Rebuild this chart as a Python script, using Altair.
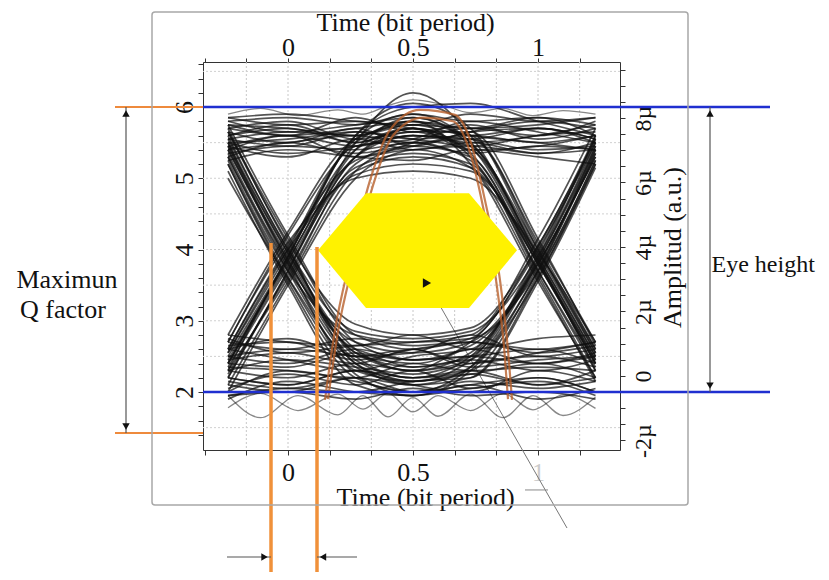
import altair as alt
import pandas as pd

FONT = "Liberation Serif"
INK = "#111111"

# ---------------- scale domains ----------------
t_domain = [-0.34, 1.328]      # time (bit period)
v_domain = [1.186, 6.632]      # left amplitude scale
u_domain = [-2.295, 9.736]     # right amplitude scale (µ)

# ---------------- eye-diagram traces ----------------
knots_t = [-0.24, 0.0, 0.27, 0.5, 0.73, 1.0, 1.23]

top_rail = [
    [5.55, 5.65, 5.60, 5.75, 5.60, 5.70, 5.55],
    [5.35, 5.45, 5.40, 5.50, 5.35, 5.45, 5.40],
    [5.80, 5.85, 5.75, 5.90, 5.80, 5.85, 5.75],
    [5.45, 5.30, 5.55, 5.40, 5.50, 5.35, 5.50],
    [5.70, 5.60, 5.85, 5.65, 5.75, 5.55, 5.70],
    [5.60, 5.75, 5.50, 5.70, 5.45, 5.60, 5.65],
    [5.25, 5.40, 5.30, 5.25, 5.40, 5.30, 5.20],
    [5.50, 5.55, 5.65, 5.55, 5.60, 5.50, 5.60],
    [5.75, 5.70, 5.60, 5.80, 5.70, 5.75, 5.85],
    [5.40, 5.60, 5.45, 5.60, 5.55, 5.40, 5.45],
    [5.65, 5.50, 5.70, 5.45, 5.65, 5.70, 5.55],
    [5.85, 5.90, 5.80, 5.75, 5.90, 5.80, 5.85],
]
bottom_rail = [
    [2.20, 2.10, 2.30, 2.15, 2.25, 2.10, 2.20],
    [2.50, 2.40, 2.60, 2.45, 2.50, 2.40, 2.55],
    [1.95, 2.00, 1.90, 2.05, 1.95, 2.00, 1.90],
    [2.70, 2.60, 2.75, 2.65, 2.70, 2.60, 2.70],
    [2.35, 2.30, 2.20, 2.40, 2.30, 2.35, 2.30],
    [2.05, 2.25, 2.10, 2.30, 2.05, 2.20, 2.00],
    [2.60, 2.75, 2.50, 2.55, 2.80, 2.50, 2.60],
    [2.30, 2.45, 2.35, 2.25, 2.40, 2.50, 2.35],
    [2.15, 2.05, 2.20, 2.00, 2.15, 2.05, 2.15],
    [2.45, 2.55, 2.40, 2.60, 2.35, 2.45, 2.50],
    [2.80, 2.70, 2.65, 2.80, 2.60, 2.75, 2.80],
    [1.90, 2.15, 2.00, 1.95, 2.10, 1.90, 2.05],
]
rise_at_0 = [
    [2.40, 3.85, 5.30, 5.60, 5.55, 5.70, 5.50],
    [2.10, 3.55, 5.10, 5.50, 5.70, 5.60, 5.80],
    [2.70, 4.20, 5.50, 5.80, 5.60, 5.50, 5.40],
    [2.30, 3.90, 5.40, 5.70, 5.40, 5.45, 5.60],
    [2.60, 4.05, 5.25, 5.45, 5.65, 5.80, 5.70],
    [2.40, 3.90, 5.60, 6.00, 6.05, 5.80, 5.60],
    [2.20, 3.70, 5.30, 5.65, 5.50, 5.60, 5.75],
    [2.55, 4.00, 5.45, 5.55, 5.80, 5.65, 5.50],
    [2.00, 3.50, 5.00, 5.40, 5.45, 5.35, 5.40],
    [2.80, 4.25, 5.55, 5.75, 5.70, 5.85, 5.60],
]
fall_at_0 = [
    [5.40, 3.85, 2.45, 2.20, 2.30, 2.10, 2.30],
    [5.65, 4.15, 2.70, 2.45, 2.50, 2.60, 2.40],
    [5.20, 3.55, 2.20, 2.00, 2.10, 2.20, 2.00],
    [5.50, 3.95, 2.60, 2.30, 2.60, 2.40, 2.50],
    [5.30, 3.70, 2.35, 2.10, 2.00, 2.30, 2.15],
    [5.00, 3.60, 2.50, 2.60, 2.40, 2.55, 2.70],
    [5.55, 4.00, 2.55, 2.35, 2.45, 2.30, 2.45],
    [5.75, 4.20, 2.80, 2.60, 2.70, 2.55, 2.65],
    [5.10, 3.50, 2.10, 1.95, 2.05, 2.15, 1.95],
    [5.45, 3.80, 2.30, 2.15, 2.25, 2.40, 2.20],
]
fall_at_1 = [
    [5.60, 5.70, 5.50, 5.70, 5.35, 3.80, 2.40],
    [5.40, 5.50, 5.60, 5.50, 5.55, 4.05, 2.60],
    [5.75, 5.60, 5.70, 5.80, 5.20, 3.55, 2.20],
    [5.50, 5.35, 5.45, 5.60, 5.45, 3.90, 2.50],
    [5.85, 5.75, 5.80, 5.70, 5.60, 4.10, 2.70],
    [5.30, 5.50, 5.35, 5.45, 5.30, 3.70, 2.30],
    [5.55, 5.45, 5.65, 5.55, 5.40, 3.85, 2.45],
    [5.70, 5.80, 5.55, 5.65, 5.65, 4.15, 2.65],
    [5.45, 5.60, 5.30, 5.40, 5.15, 3.60, 2.15],
    [5.80, 5.65, 5.75, 5.85, 5.50, 4.00, 2.55],
]
rise_at_1 = [
    [2.30, 2.20, 2.40, 2.30, 2.45, 3.80, 5.30],
    [2.50, 2.60, 2.50, 2.40, 2.70, 4.00, 5.50],
    [2.10, 2.00, 2.20, 2.10, 2.20, 3.60, 5.20],
    [2.60, 2.45, 2.30, 2.50, 2.60, 3.90, 5.60],
    [2.00, 2.30, 2.15, 2.00, 2.35, 3.70, 5.40],
    [2.75, 2.55, 2.65, 2.70, 2.80, 4.15, 5.70],
    [2.40, 2.35, 2.55, 2.35, 2.50, 3.85, 5.45],
    [2.20, 2.10, 2.30, 2.20, 2.30, 3.65, 5.25],
    [2.65, 2.70, 2.45, 2.60, 2.75, 4.05, 5.55],
    [1.95, 2.05, 2.00, 2.15, 2.20, 3.55, 5.15],
]
pulse = [
    [2.40, 3.80, 5.30, 5.70, 5.30, 3.80, 2.40],
    [2.20, 3.70, 5.50, 6.20, 5.60, 3.90, 2.50],
    [2.60, 4.00, 5.05, 5.20, 5.10, 3.85, 2.30],
    [2.30, 3.60, 5.20, 5.50, 5.25, 3.65, 2.20],
    [2.50, 3.90, 5.60, 6.05, 5.70, 4.00, 2.60],
    [2.70, 4.10, 5.00, 5.10, 5.00, 3.95, 2.70],
    [2.45, 3.85, 5.40, 5.85, 5.45, 3.85, 2.45],
    [2.35, 3.75, 5.15, 5.35, 5.20, 3.70, 2.35],
    [2.55, 3.95, 5.55, 5.90, 5.50, 3.95, 2.55],
    [2.25, 3.65, 5.10, 5.30, 5.15, 3.80, 2.40],
]
dip = [
    [5.40, 3.90, 2.50, 2.20, 2.50, 3.80, 5.30],
    [5.60, 4.00, 2.85, 2.75, 2.85, 3.90, 5.50],
    [5.20, 3.60, 2.25, 1.95, 2.30, 3.60, 5.20],
    [5.50, 3.85, 2.60, 2.45, 2.65, 3.75, 5.45],
    [5.70, 4.10, 2.95, 2.80, 2.90, 4.05, 5.60],
    [5.30, 3.75, 2.40, 2.10, 2.35, 3.70, 5.35],
    [5.45, 3.95, 2.55, 2.30, 2.55, 3.85, 5.40],
    [5.35, 3.80, 2.70, 2.55, 2.70, 3.80, 5.35],
    [5.65, 4.05, 2.40, 2.15, 2.45, 3.95, 5.55],
    [5.25, 3.70, 2.80, 2.70, 2.75, 3.70, 5.25],
]

# ringing traces with their own knots
ring_t = [-0.24, -0.11, 0.04, 0.20, 0.30, 0.40, 0.50, 0.60, 0.73, 0.86, 0.98, 1.10, 1.23]
ring_low_a = [1.95, 1.64, 1.95, 1.68, 1.95, 1.65, 1.92, 1.66, 1.97, 1.64, 1.95, 1.67, 1.93]
ring_low_b = [1.78, 1.98, 1.74, 1.97, 1.76, 1.98, 1.72, 1.95, 1.74, 1.98, 1.75, 1.96, 1.77]
ring_top = [5.90, 5.98, 5.88, 5.96, 5.90, 6.02, 6.10, 6.05, 5.92, 5.98, 5.88, 5.95, 5.90]

# highlighted (orange) pulse traces
orange_t1 = [0.148, 0.188, 0.248, 0.328, 0.408, 0.528, 0.668, 0.728, 0.788, 0.848, 0.880, 0.896]
orange_v1 = [1.89, 2.87, 3.85, 4.97, 5.68, 5.96, 5.89, 5.54, 4.69, 3.57, 2.59, 1.89]
orange_t2 = [0.160, 0.200, 0.260, 0.340, 0.420, 0.540, 0.660, 0.720, 0.780, 0.835, 0.865, 0.880]
orange_v2 = [1.90, 2.85, 3.80, 4.90, 5.60, 5.85, 5.80, 5.45, 4.60, 3.50, 2.60, 1.90]

# eye-opening hexagon
hex_t = [0.12, 0.312, 0.724, 0.916]
hex_top = [3.99, 4.79, 4.79, 3.99]
hex_bottom = [3.99, 3.18, 3.18, 3.99]

# annotation geometry (in data units)
marker_pt = (0.556, 3.53)
pointer_t = [0.556, 1.116]
pointer_v = [3.53, 0.091]
blue_levels = [6.0, 2.0]
blue_span = [-0.34, 1.928]
orange_levels = [6.0, 1.425]
orange_span = [-0.692, -0.34]
orange_cols_t = [-0.068, 0.116]
orange_cols_top = [4.09, 4.035]
orange_cols_bottom = -0.64
frame_t = [-0.544, 1.60]
frame_v = [0.414, 7.333]

grid_t = [-1/6, 0.0, 1/6, 1/3, 0.5, 2/3, 5/6, 1.0, 7/6]
grid_v = [1.5, 2.0, 2.5, 3.0, 3.5, 4.0, 4.5, 5.0, 5.5, 6.0, 6.5]

x_ticks = [-1/3, -1/6, 0.0, 1/6, 1/3, 0.5, 2/3, 5/6, 1.0, 7/6]
v_ticks = [round(1.4 + 0.2 * i, 1) for i in range(27)]
u_ticks = [-2.0, -1.5, -1.0, -0.5, 0.0, 0.5, 1.0, 1.5, 2.0, 2.5, 3.0, 3.5, 4.0, 4.5,
           5.0, 5.5, 6.0, 6.5, 7.0, 7.5, 8.0, 8.5, 9.0, 9.5]

texts = pd.DataFrame({
    "t": [-0.884, -0.90, 1.694],
    "v": [3.572, 3.151, 3.782],
    "label": ["Maximun", "Q factor", "Eye height"],
    "align": ["center", "center", "left"],
})

# ---------------- build tables ----------------
rows = []
groups = [("top", top_rail), ("bot", bottom_rail), ("r0", rise_at_0), ("f0", fall_at_0),
          ("f1", fall_at_1), ("r1", rise_at_1), ("p", pulse), ("d", dip)]
for name, group in groups:
    for i, vals in enumerate(group):
        for t, v in zip(knots_t, vals):
            rows.append({"trace": f"{name}{i}", "t": t, "v": v})
traces_df = pd.DataFrame(rows)

ring_rows = []
for name, vals in [("ra", ring_low_a), ("rb", ring_low_b), ("rt", ring_top)]:
    for t, v in zip(ring_t, vals):
        ring_rows.append({"trace": name, "t": t, "v": v})
ring_df = pd.DataFrame(ring_rows)

orange_df = pd.DataFrame(
    [{"trace": "o1", "t": t, "v": v} for t, v in zip(orange_t1, orange_v1)]
    + [{"trace": "o2", "t": t, "v": v} for t, v in zip(orange_t2, orange_v2)]
)
hex_df = pd.DataFrame({"t": hex_t, "top": hex_top, "bottom": hex_bottom})

xs = alt.Scale(domain=t_domain, nice=False, zero=False)
ys = alt.Scale(domain=v_domain, nice=False, zero=False)
us = alt.Scale(domain=u_domain, nice=False, zero=False)

X = lambda f="t": alt.X(f"{f}:Q", scale=xs, axis=None)
Y = lambda f="v": alt.Y(f"{f}:Q", scale=ys, axis=None)

# grid
grid_x = alt.Chart(pd.DataFrame({"t": grid_t})).mark_rule(
    color="#c8c8c8", strokeWidth=1, strokeDash=[2, 2]).encode(x=X())
grid_y = alt.Chart(pd.DataFrame({"v": grid_v})).mark_rule(
    color="#d0d0d0", strokeWidth=1, strokeDash=[2, 2]).encode(y=Y())

# gray pointer line
pointer = alt.Chart(pd.DataFrame({"t": pointer_t, "v": pointer_v})).mark_line(
    color="#777777", strokeWidth=1, clip=False).encode(x=X(), y=Y())
pointer_tail = alt.Chart(pd.DataFrame({"t": [0.948], "t2": [1.04], "v": [0.625]})).mark_rule(
    color="#888888", strokeWidth=1, clip=False).encode(x=X(), x2="t2:Q", y=Y())

traces = alt.Chart(traces_df).mark_line(
    interpolate="monotone", color=INK, opacity=0.72, strokeWidth=1.7).encode(
    x=X(), y=Y(), detail="trace:N")
ringing = alt.Chart(ring_df).mark_line(
    interpolate="monotone", color=INK, opacity=0.5, strokeWidth=1.3).encode(
    x=X(), y=Y(), detail="trace:N")

orange_tr = alt.Chart(orange_df).mark_line(
    interpolate="monotone", color="#b8602c", opacity=0.8, strokeWidth=2.2).encode(
    x=X(), y=Y(), detail="trace:N")

hexagon = alt.Chart(hex_df).mark_area(color="#fff200", opacity=1).encode(
    x=X(), y=Y("top"), y2="bottom:Q")

marker = alt.Chart(pd.DataFrame({"t": [marker_pt[0]], "v": [marker_pt[1]]})).mark_point(
    shape="triangle-right", filled=True, color=INK, size=90, opacity=1).encode(x=X(), y=Y())

blue = alt.Chart(pd.DataFrame({"v": blue_levels, "t": [blue_span[0]] * 2, "t2": [blue_span[1]] * 2})).mark_rule(
    color="#1f2fd0", strokeWidth=2.5, clip=False).encode(x=X(), x2="t2:Q", y=Y())
orange_h = alt.Chart(pd.DataFrame({"v": orange_levels, "t": [orange_span[0]] * 2, "t2": [orange_span[1]] * 2})).mark_rule(
    color="#ee8a3c", strokeWidth=2, clip=False).encode(x=X(), x2="t2:Q", y=Y())
orange_v = alt.Chart(pd.DataFrame({"t": orange_cols_t, "v": orange_cols_top,
                                   "v2": [orange_cols_bottom] * 2})).mark_rule(
    color="#f0913a", strokeWidth=3.5, clip=False).encode(x=X(), y=Y(), y2="v2:Q")

# double arrows (vertical) and jitter arrows (horizontal)
arrow_lines = alt.Chart(pd.DataFrame({
    "t": [-0.648, 1.688], "v": [6.0, 6.0], "v2": [1.425, 2.0]})).mark_rule(
    color="#555555", strokeWidth=1.2, clip=False).encode(x=X(), y=Y(), y2="v2:Q")
heads_up = alt.Chart(pd.DataFrame({"t": [-0.648, 1.688], "v": [5.91, 5.91]})).mark_point(
    shape="triangle-up", filled=True, color=INK, size=55, opacity=1, clip=False).encode(x=X(), y=Y())
heads_down = alt.Chart(pd.DataFrame({"t": [-0.648, 1.688], "v": [1.515, 2.09]})).mark_point(
    shape="triangle-down", filled=True, color=INK, size=55, opacity=1, clip=False).encode(x=X(), y=Y())
h_lines = alt.Chart(pd.DataFrame({"t": [-0.244, 0.116], "t2": [-0.068, 0.276], "v": [-0.316, -0.316]})).mark_rule(
    color="#555555", strokeWidth=1.2, clip=False).encode(x=X(), x2="t2:Q", y=Y())
head_r = alt.Chart(pd.DataFrame({"t": [-0.094], "v": [-0.316]})).mark_point(
    shape="triangle-right", filled=True, color=INK, size=55, opacity=1, clip=False).encode(x=X(), y=Y())
head_l = alt.Chart(pd.DataFrame({"t": [0.14], "v": [-0.316]})).mark_point(
    shape="triangle-left", filled=True, color=INK, size=55, opacity=1, clip=False).encode(x=X(), y=Y())

# annotation texts
text_c = alt.Chart(texts[texts["align"] == "center"]).mark_text(
    font=FONT, fontSize=26, color=INK, align="center", baseline="middle", clip=False).encode(
    x=X(), y=Y(), text="label:N")
text_l = alt.Chart(texts[texts["align"] == "left"]).mark_text(
    font=FONT, fontSize=24, color=INK, align="left", baseline="middle", clip=False).encode(
    x=X(), y=Y(), text="label:N")

# outer frame
frame = alt.Chart(pd.DataFrame({"t": [frame_t[0]], "t2": [frame_t[1]],
                                "v": [frame_v[1]], "v2": [frame_v[0]]})).mark_rect(
    filled=False, stroke="#a8a8a8", strokeWidth=1.5, cornerRadius=3, clip=False).encode(
    x=X(), x2="t2:Q", y=Y(), y2="v2:Q")

# axes: bottom/left on the amplitude scale, top/right on the µ scale
axis_common = dict(labelFont=FONT, titleFont=FONT, titleColor=INK,
                   domainColor="#333333", tickColor="#333333", labelFlush=False,
                   labelOverlap=False, grid=False, titleFontWeight="normal")

bottom_axis = alt.Axis(
    orient="bottom", values=x_ticks, tickSize=5, labelFontSize=26, labelPadding=25,
    labelBaseline="alphabetic",
    labelExpr="abs(datum.value) < 1e-6 ? '0' : abs(datum.value - 0.5) < 1e-6 ? '0.5' : abs(datum.value - 1) < 1e-6 ? '1' : ''",
    labelColor={"condition": {"test": "datum.value > 0.9", "value": "#cccccc"}, "value": INK},
    title="Time (bit period)", titleFontSize=26, titleX=222, titleY=55,
    titleBaseline="alphabetic", titleAlign="center", **axis_common)
left_axis = alt.Axis(
    orient="left", values=v_ticks, tickSize=5, labelFontSize=26, labelPadding=6,
    labelAngle=270, labelAlign="center", labelBaseline="alphabetic", labelColor=INK,
    labelExpr="datum.value % 1 == 0 ? datum.value : ''", title=None, **axis_common)
top_axis = alt.Axis(
    orient="top", values=x_ticks, tickSize=4, labelFontSize=26, labelPadding=3,
    labelBaseline="alphabetic", labelColor=INK,
    labelExpr="abs(datum.value) < 1e-6 ? '0' : abs(datum.value - 0.5) < 1e-6 ? '0.5' : abs(datum.value - 1) < 1e-6 ? '1' : ''",
    title="Time (bit period)", titleFontSize=26, titleX=202, titleY=-32,
    titleBaseline="alphabetic", titleAlign="center", **axis_common)
right_axis = alt.Axis(
    orient="right", values=u_ticks, tickSize=5, labelFontSize=24, labelPadding=6,
    labelAngle=270, labelAlign="center", labelBaseline="top", labelColor=INK,
    labelExpr="datum.value % 2 == 0 ? (datum.value == 0 ? '0' : datum.value + 'µ') : ''",
    title="Amplitud (a.u.)", titleFontSize=26, titleAngle=270, titleX=52, titleY=185,
    titleBaseline="middle", titleAlign="center", **axis_common)

axes_bl = alt.Chart(pd.DataFrame({"t": t_domain, "v": v_domain})).mark_point(opacity=0).encode(
    x=alt.X("t:Q", scale=xs, axis=bottom_axis), y=alt.Y("v:Q", scale=ys, axis=left_axis))
axes_tr = alt.Chart(pd.DataFrame({"t": t_domain, "u": u_domain})).mark_point(opacity=0).encode(
    x=alt.X("t:Q", scale=xs, axis=top_axis), y=alt.Y("u:Q", scale=us, axis=right_axis))

chart = alt.layer(
    axes_bl, axes_tr, grid_x, grid_y, pointer, pointer_tail, ringing, traces, orange_tr, hexagon,
    marker, blue, orange_h, orange_v, arrow_lines, heads_up, heads_down, h_lines, head_r, head_l,
    text_c, text_l, frame,
).resolve_scale(x="independent", y="independent").properties(
    width=417, height=388,
    padding={"left": 195, "top": 54, "right": 201, "bottom": 122},
    autosize=alt.AutoSizeParams(type="none"),
).configure_view(strokeWidth=0).configure(background="white")

chart.save("out.html", embed_options={"renderer": "svg", "actions": False})
